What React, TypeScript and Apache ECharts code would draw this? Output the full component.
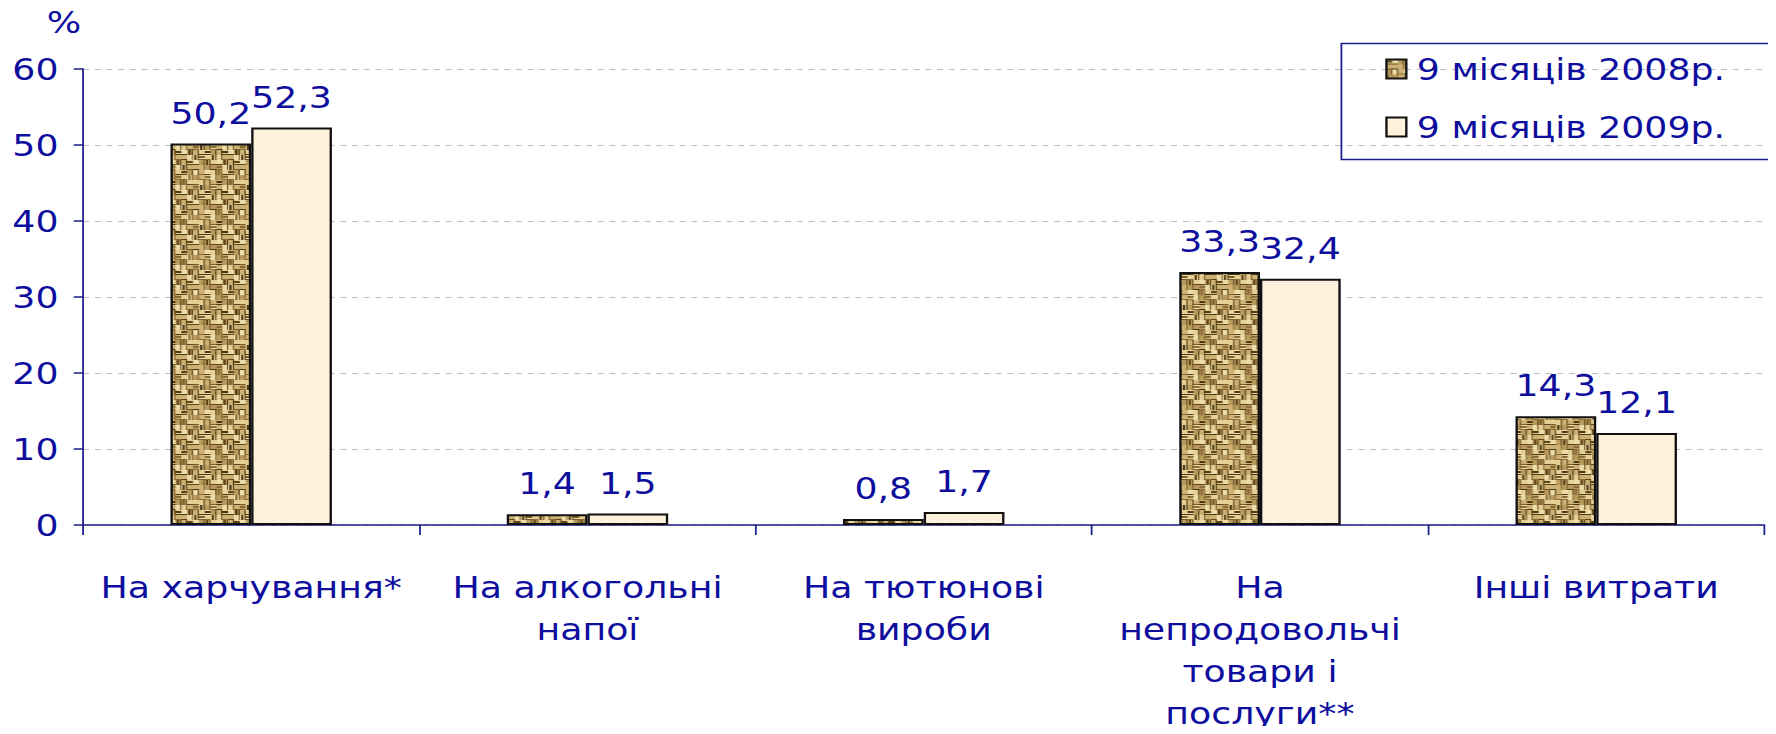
import React, { useEffect, useRef } from "react";
import * as echarts from "echarts";

const categories = [
  "На харчування*",
  "На алкогольні\nнапої",
  "На тютюнові\nвироби",
  "На\nнепродовольчі\nтовари і\nпослуги**",
  "Інші витрати",
];
const seriesNames = ["9 місяців 2008р.", "9 місяців 2009р."];
const values2008 = [50.2, 1.4, 0.8, 33.3, 14.3];
const values2009 = [52.3, 1.5, 1.7, 32.4, 12.1];

const BLUE = "#0d0d9e";
const AXIS = "#1c1c8a";
const FONT = "'DejaVu Sans', Verdana, sans-serif";
const SX = 1.17; // the reference is horizontally stretched
const W = Math.round(1776 / SX);
const FS = 31;

function makeWeave(): HTMLCanvasElement {
  const cell = 5;
  const n = 8;
  const c = document.createElement("canvas");
  c.width = cell * n;
  c.height = cell * n;
  const g = c.getContext("2d")!;
  g.fillStyle = "#a88a50";
  g.fillRect(0, 0, c.width, c.height);
  const lights = ["#e4cf94", "#cdb174", "#b89a5c", "#ecdca8"];
  const darks = ["#5e4418", "#7a5c2c", "#4e3814", "#8a6c36"];
  for (let i = 0; i < n; i++) {
    for (let j = 0; j < n; j++) {
      const x = i * cell;
      const y = j * cell;
      const h = (i * 7 + j * 13 + ((i * j) % 3)) % 4;
      const horiz = ((Math.floor(i / 2) + Math.floor(j / 2)) % 2) === 0;
      g.fillStyle = lights[h];
      g.fillRect(x, y, cell, cell);
      g.fillStyle = darks[(h + i) % 4];
      if (horiz) {
        g.fillRect(x, y + cell - 1, cell, 1);
        if ((i + j) % 3 === 0) g.fillRect(x, y + 1, cell, 2);
      } else {
        g.fillRect(x + cell - 1, y, 1, cell);
        if ((i * 2 + j) % 3 === 0) g.fillRect(x + 1, y, 2, cell);
      }
    }
  }
  return c;
}

export default function App() {
  const ref = useRef<HTMLDivElement>(null);
  useEffect(() => {
    if (!ref.current) return;
    const chart = echarts.init(ref.current, null, { renderer: "svg" });
    const weave = makeWeave();
    const pattern: any = { image: weave, repeat: "repeat" };
    const fmt = (p: any) => String(p.value).replace(".", ",");
    const barLabel = {
      show: true,
      position: "top",
      distance: 15,
      color: BLUE,
      fontSize: FS,
      fontFamily: FONT,
      formatter: fmt,
    };
    chart.setOption({
      animation: false,
      backgroundColor: "#ffffff",
      textStyle: { fontFamily: FONT },
      grid: { left: 71, right: 10, top: 69, bottom: 199, containLabel: false },
      legend: {
        orient: "vertical",
        left: 1184,
        top: 51,
        padding: 0,
        itemWidth: 17,
        itemHeight: 19,
        itemGap: 22,
        icon: "rect",
        textStyle: { color: BLUE, fontSize: FS, fontFamily: FONT, lineHeight: 36, padding: [0, 0, 0, 4] },
        data: seriesNames,
      },
      graphic: [
        {
          type: "rect",
          left: 1144,
          top: 41,
          shape: { width: 367, height: 116 },
          style: { fill: "none", stroke: AXIS, lineWidth: 1.5 },
          z: 10,
        },
        {
          type: "text",
          left: 40,
          top: 7,
          style: { text: "%", fill: BLUE, font: `${FS}px ${FONT}` },
        },
      ],
      xAxis: {
        type: "category",
        data: categories,
        axisLine: { lineStyle: { color: AXIS, width: 1.5 } },
        axisTick: { show: true, length: 10, lineStyle: { color: AXIS, width: 1.5 } },
        axisLabel: {
          color: BLUE,
          fontSize: FS,
          fontFamily: FONT,
          lineHeight: 42,
          margin: 41,
          interval: 0,
        },
      },
      yAxis: {
        type: "value",
        min: 0,
        max: 60,
        interval: 10,
        axisLine: { show: true, lineStyle: { color: AXIS, width: 1.5 } },
        axisTick: { show: true, length: 8, lineStyle: { color: AXIS, width: 1.5 } },
        axisLabel: { color: BLUE, fontSize: FS, fontFamily: FONT, margin: 21 },
        splitLine: { lineStyle: { color: "#bdbdbd", type: [5, 5], width: 1 } },
      },
      series: [
        {
          name: seriesNames[0],
          type: "bar",
          data: values2008,
          barWidth: 69,
          barGap: "0%",
          itemStyle: { color: pattern, borderColor: "#111", borderWidth: 2 },
          label: barLabel,
        },
        {
          name: seriesNames[1],
          type: "bar",
          data: values2009,
          barWidth: 69,
          barGap: "0%",
          itemStyle: { color: "#fdf1dc", borderColor: "#111", borderWidth: 2 },
          label: barLabel,
        },
      ],
    });
    return () => chart.dispose();
  }, []);
  return (
    <div style={{ margin: -8, width: 1776, height: 734, overflow: "hidden" }}>
      <div
        ref={ref}
        style={{ width: W, height: 734, transform: `scaleX(${SX})`, transformOrigin: "0 0" }}
      />
    </div>
  );
}
